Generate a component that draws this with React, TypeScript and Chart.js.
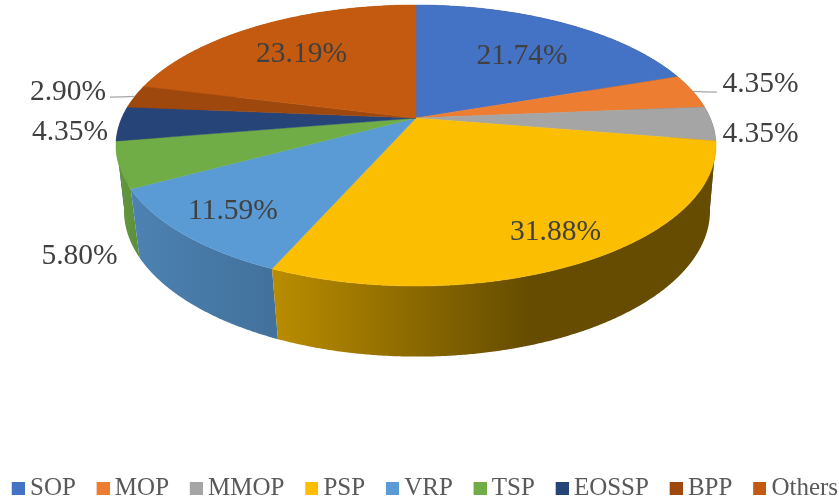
import React, { useEffect, useRef } from "react";
import { Chart, registerables } from "chart.js";

Chart.register(...registerables);

const categories = ["SOP", "MOP", "MMOP", "PSP", "VRP", "TSP", "EOSSP", "BPP", "Others"];
const shares = [21.74, 4.35, 4.35, 31.88, 11.59, 5.8, 4.35, 2.9, 23.19];
const colours = ["#4472C4", "#ED7D31", "#A5A5A5", "#FCBE00", "#5B9BD5", "#70AD47", "#264478", "#9E480E", "#C35A0F"];

// Where each percentage label is centred
const labelCentres: [number, number][] = [
  [522, 56.5], [760.5, 84.5], [760.5, 134.5], [555.5, 232], [233, 211.5], [79.5, 256.5], [70, 132], [68, 92.5], [301.5, 54.5],
];
// Outer end of the leader lines, by category index
const leaders: Record<number, [number, number]> = { 1: [717, 92], 7: [110, 97] };

// Perspective of the disc
const TOP = { cx: 416, a: 294.2, b: 112.02, c: 118, w: 0.1957 };
const BOTTOM = { cx: 417, a: 288, b: 107, c: 184, w: 0.184 };
// Wall shading across the width of the picture
const SHADE: [number, number][] = [[120, 0.87], [137, 0.83], [278, 0.73], [415, 0.55], [530, 0.4], [720, 0.4]];

const project = (p: typeof TOP, angle: number): [number, number] => {
  const t = angle + Math.PI / 2;
  const u = Math.sin(t);
  const v = -Math.cos(t);
  const s = 1 / (1 - p.w * v);
  return [p.cx + p.a * u * s, (p.b * v + p.c) * s];
};

const rimPoints = (p: typeof TOP, from: number, to: number) => {
  const n = Math.max(2, Math.ceil(Math.abs(to - from) / 0.006));
  const pts: [number, number][] = [];
  for (let i = 0; i <= n; i++) pts.push(project(p, from + ((to - from) * i) / n));
  return pts;
};

const shadeColour = (hex: string, f: number) => {
  const n = parseInt(hex.slice(1), 16);
  return `rgb(${((n >> 16) & 255) * f},${((n >> 8) & 255) * f},${(n & 255) * f})`;
};

const disc3d = {
  id: "disc3d",
  beforeDatasetsDraw(chart: any) {
    const ctx: CanvasRenderingContext2D = chart.ctx;
    const arcs = chart.getDatasetMeta(0).data as any[];
    ctx.save();
    // walls, from the back of the disc to the front
    const depth = (arc: any) => -Math.cos((arc.startAngle + arc.endAngle) / 2 + Math.PI / 2);
    const order = arcs.map((_, i) => i).sort((p, q) => depth(arcs[p]) - depth(arcs[q]));
    order.forEach((i) => {
      const arc = arcs[i];
      const a = rimPoints(TOP, arc.startAngle, arc.endAngle);
      const b = rimPoints(BOTTOM, arc.endAngle, arc.startAngle);
      const g = ctx.createLinearGradient(0, 0, 839, 0);
      SHADE.forEach(([x, f]) => g.addColorStop(x / 839, shadeColour(colours[i], f)));
      ctx.beginPath();
      [...a, ...b].forEach(([x, y], k) => (k ? ctx.lineTo(x, y) : ctx.moveTo(x, y)));
      ctx.closePath();
      ctx.fillStyle = g;
      ctx.fill();
    });
    // top face
    arcs.forEach((arc, i) => {
      ctx.beginPath();
      ctx.moveTo(TOP.cx, TOP.c);
      rimPoints(TOP, arc.startAngle, arc.endAngle).forEach(([x, y]) => ctx.lineTo(x, y));
      ctx.closePath();
      ctx.fillStyle = colours[i];
      ctx.strokeStyle = colours[i];
      ctx.lineWidth = 0.5;
      ctx.fill();
      ctx.stroke();
    });
    // leader lines
    ctx.strokeStyle = "#a6a6a6";
    ctx.lineWidth = 1.25;
    Object.entries(leaders).forEach(([k, [x, y]]) => {
      const arc = arcs[Number(k)];
      const [rx, ry] = project(TOP, (arc.startAngle + arc.endAngle) / 2);
      ctx.beginPath();
      ctx.moveTo(x, y);
      ctx.quadraticCurveTo((x + rx) / 2, y, rx, ry);
      ctx.stroke();
    });
    // labels
    ctx.font = '29.5px "Liberation Serif"';
    ctx.fillStyle = "#404040";
    ctx.textAlign = "center";
    ctx.textBaseline = "middle";
    shares.forEach((v, i) => {
      ctx.fillText(`${v.toFixed(2)}%`, labelCentres[i][0], labelCentres[i][1]);
    });
    ctx.restore();
    return false;
  },
};

const legendSwatch = (colour: string) => {
  const c = document.createElement("canvas");
  c.width = 31;
  c.height = 13;
  const x = c.getContext("2d")!;
  x.fillStyle = colour;
  x.fillRect(18, 0, 13, 13);
  return c;
};

export default function App() {
  const ref = useRef<HTMLCanvasElement>(null);
  useEffect(() => {
    document.body.style.margin = "0";
    const chart = new Chart(ref.current!, {
      type: "pie",
      data: {
        labels: categories,
        datasets: [{ data: shares, backgroundColor: colours, borderWidth: 0 }],
      },
      plugins: [disc3d],
      options: {
        responsive: false,
        animation: false,
        layout: { padding: { left: -9, right: -40, top: 0, bottom: -10 } },
        plugins: {
          tooltip: { enabled: false },
          legend: {
            position: "bottom",
            align: "start",
            labels: {
              usePointStyle: true,
              boxWidth: 16.5,
              boxHeight: 13,
              padding: 10,
              color: "#595959",
              font: { family: '"Liberation Serif"', size: 25 },
              generateLabels: () =>
                categories.map((text, i) => ({
                  text,
                  fontColor: "#595959",
                  fillStyle: colours[i],
                  pointStyle: legendSwatch(colours[i]),
                  lineWidth: 0,
                  index: i,
                  hidden: false,
                })),
            },
          },
        },
      },
    } as any);
    return () => chart.destroy();
  }, []);
  return (
    <div style={{ width: 839, height: 501, overflow: "hidden" }}>
      <canvas ref={ref} width={839} height={501} style={{ display: "block" }} />
    </div>
  );
}
